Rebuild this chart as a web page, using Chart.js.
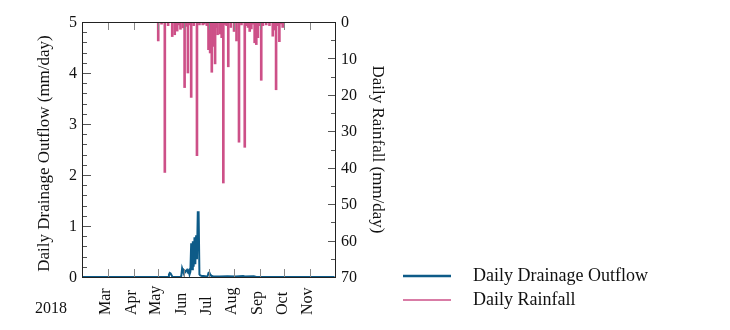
<!DOCTYPE html>
<html>
<head>
<meta charset="utf-8">
<script src="https://cdn.jsdelivr.net/npm/chart.js@4"></script>
<style>
  html, body { margin: 0; padding: 0; background: #fff; }
  #wrap { width: 730px; height: 330px; position: relative; }
</style>
</head>
<body>
<div id="wrap"><canvas id="drainChart"></canvas></div>
<script>
/* ── DATA (x = day of year 2018) ───────────────────────── */
const monthLabels    = ['Mar', 'Apr', 'May', 'Jun', 'Jul', 'Aug', 'Sep', 'Oct', 'Nov'];
const monthStartDays = [60, 91, 121, 152, 182, 213, 244, 274, 305];
const yearLabel      = '2018';

const outflowTicks  = [0, 1, 2, 3, 4, 5];
const rainfallTicks = [0, 10, 20, 30, 40, 50, 60, 70];

const outflowDays   = [29, 133, 134, 135, 136, 137, 138, 139, 148, 149,
                       150, 151, 152, 153, 154, 155, 156, 157, 158, 159,
                       160, 161, 162, 163, 164, 165, 166, 167, 168, 169,
                       170, 171, 172, 174, 176, 180, 181, 182, 183, 184,
                       185, 186, 188, 195, 205, 215, 224, 226, 237, 240, 335];
const outflowValues = [0, 0, 0.05, 0.08, 0.07, 0.04, 0.01, 0, 0, 0.02,
                       0.17, 0.12, 0.14, 0.13, 0.10, 0.12, 0.14, 0.11, 0.13, 0.05,
                       0.10, 0.66, 0.15, 0.70, 0.20, 0.78, 0.25, 0.82, 0.35, 1.27,
                       1.27, 0.05, 0.03, 0.02, 0.02, 0.01, 0.02, 0.08, 0.09, 0.05,
                       0.03, 0.02, 0.01, 0.01, 0.015, 0.01, 0.02, 0.01, 0.015, 0, 0];

const rainDays   = [121, 125, 129, 133, 138, 141, 144, 146, 148, 151,
                    153, 155, 157, 159, 161, 164, 168, 171, 175, 177,
                    180, 182, 184, 186, 188, 190, 192, 193, 196, 198,
                    200, 202, 204, 206, 209, 213, 216, 219, 222, 226,
                    228, 230, 232, 234, 236, 238, 240, 242, 244, 246,
                    248, 252, 256, 260, 262, 264, 266, 268, 270, 272];
const rainValues = [5.2, 0.6, 41.3, 1.0, 4.0, 3.5, 2.5, 0.8, 2.0, 1.6,
                    18, 1.2, 14, 0.8, 20.7, 1.0, 36.7, 0.8, 0.8, 0.6,
                    1.0, 7.6, 8.5, 13.8, 6.7, 11.5, 1.5, 3.5, 3.3, 4.3,
                    44.2, 0.7, 1.0, 12.3, 1.5, 2.6, 5.2, 33, 0.8, 34.4,
                    1.0, 1.5, 2.6, 1.9, 0.6, 5.7, 6.2, 4.3, 1.0, 16,
                    1.0, 0.8, 1.0, 3.9, 2.2, 18.6, 1.0, 5.4, 0.5, 1.5];

const OUTFLOW_COLOR = '#0d5b88';
const RAIN_COLOR    = '#cd5088';
const SERIF         = '"Liberation Serif", "Times New Roman", serif';

/* ── AXES, TICKS, TITLES & LEGEND (drawn from the scales) ── */
const framePlugin = {
  id: 'frame',
  afterDraw(chart) {
    const ctx = chart.ctx;
    const a = chart.chartArea;
    const x = chart.scales.x, y = chart.scales.y, y2 = chart.scales.y2;
    ctx.save();

    // inward tick marks
    ctx.lineWidth = 1;
    ctx.strokeStyle = '#555';
    for (let v = 0; v <= 5.0001; v += 0.2) {
      const py = Math.round(y.getPixelForValue(v)) + 0.5;
      const len = Math.abs(v - Math.round(v)) < 1e-6 ? 9 : 5;
      ctx.beginPath(); ctx.moveTo(a.left, py); ctx.lineTo(a.left + len, py); ctx.stroke();
    }
    for (let v = 0; v <= 70; v += 5) {
      const py = Math.round(y2.getPixelForValue(v)) + 0.5;
      const len = v % 10 === 0 ? 7 : 4;
      ctx.beginPath(); ctx.moveTo(a.right, py); ctx.lineTo(a.right - len, py); ctx.stroke();
    }
    ctx.strokeStyle = '#888';
    monthStartDays.forEach(d => {
      const px = Math.round(x.getPixelForValue(d)) + 0.5;
      ctx.beginPath(); ctx.moveTo(px, a.bottom); ctx.lineTo(px, a.bottom - 8); ctx.stroke();
      ctx.beginPath(); ctx.moveTo(px, a.top); ctx.lineTo(px, a.top + 8); ctx.stroke();
    });

    // frame
    ctx.strokeStyle = '#222';
    ctx.strokeRect(Math.round(a.left) + 0.5, Math.round(a.top) + 0.5,
                   Math.round(a.right - a.left), Math.round(a.bottom - a.top));

    // tick labels
    ctx.fillStyle = '#111';
    ctx.font = '16px ' + SERIF;
    ctx.textBaseline = 'middle';
    ctx.textAlign = 'right';
    outflowTicks.forEach(v => ctx.fillText(String(v), a.left - 5, y.getPixelForValue(v) + 1));
    ctx.textAlign = 'left';
    rainfallTicks.forEach(v => ctx.fillText(String(v), a.right + 6, y2.getPixelForValue(v) + 1));

    monthLabels.forEach((m, i) => {
      const px = x.getPixelForValue(monthStartDays[i]) - 2;
      ctx.save();
      ctx.translate(px, 315);
      ctx.rotate(-Math.PI / 2);
      ctx.textAlign = 'left';
      ctx.fillText(m, 0, 0);
      ctx.restore();
    });
    ctx.textAlign = 'left';
    ctx.fillText(yearLabel, 35, 309);

    // axis titles
    ctx.font = '17px ' + SERIF;
    ctx.textAlign = 'center';
    ctx.save();
    ctx.translate(45, (a.top + a.bottom) / 2 + 4);
    ctx.rotate(-Math.PI / 2);
    ctx.fillText('Daily Drainage Outflow (mm/day)', 0, 0);
    ctx.restore();
    ctx.save();
    ctx.translate(377, (a.top + a.bottom) / 2);
    ctx.rotate(Math.PI / 2);
    ctx.fillText('Daily Rainfall (mm/day)', 0, 0);
    ctx.restore();

    // legend
    const items = [
      { text: 'Daily Drainage Outflow', color: OUTFLOW_COLOR, w: 2.5, yy: 276 },
      { text: 'Daily Rainfall',         color: RAIN_COLOR,    w: 1.5, yy: 300 }
    ];
    ctx.font = '18px ' + SERIF;
    ctx.textAlign = 'left';
    items.forEach(it => {
      ctx.strokeStyle = it.color;
      ctx.lineWidth = it.w;
      ctx.beginPath(); ctx.moveTo(403, it.yy); ctx.lineTo(451, it.yy); ctx.stroke();
      ctx.fillStyle = '#111';
      ctx.fillText(it.text, 473, it.yy);
    });

    ctx.restore();
  }
};

/* ── BUILD CHART ───────────────────────────────────────── */
new Chart(document.getElementById('drainChart'), {
  data: {
    datasets: [
      {
        type: 'line',
        label: 'Daily Drainage Outflow',
        data: outflowDays.map((d, i) => ({ x: d, y: outflowValues[i] })),
        yAxisID: 'y',
        borderColor: OUTFLOW_COLOR,
        borderWidth: 2,
        pointRadius: 0,
        tension: 0,
        fill: false
      },
      {
        type: 'bar',
        label: 'Daily Rainfall',
        data: rainDays.map((d, i) => ({ x: d, y: rainValues[i] })),
        yAxisID: 'y2',
        backgroundColor: RAIN_COLOR,
        borderWidth: 0,
        barThickness: 2
      }
    ]
  },
  options: {
    responsive: true, maintainAspectRatio: false,
    animation: false,
    layout: { padding: { left: 82, top: 22, right: 395, bottom: 53 } },
    plugins: { legend: { display: false }, tooltip: { enabled: false } },
    scales: {
      x:  { type: 'linear', display: false, min: 28.5, max: 335.5, offset: false },
      y:  { type: 'linear', display: false, min: 0, max: 5 },
      y2: { type: 'linear', display: false, min: 0, max: 70, reverse: true }
    }
  },
  plugins: [framePlugin]
});
</script>
</body>
</html>
